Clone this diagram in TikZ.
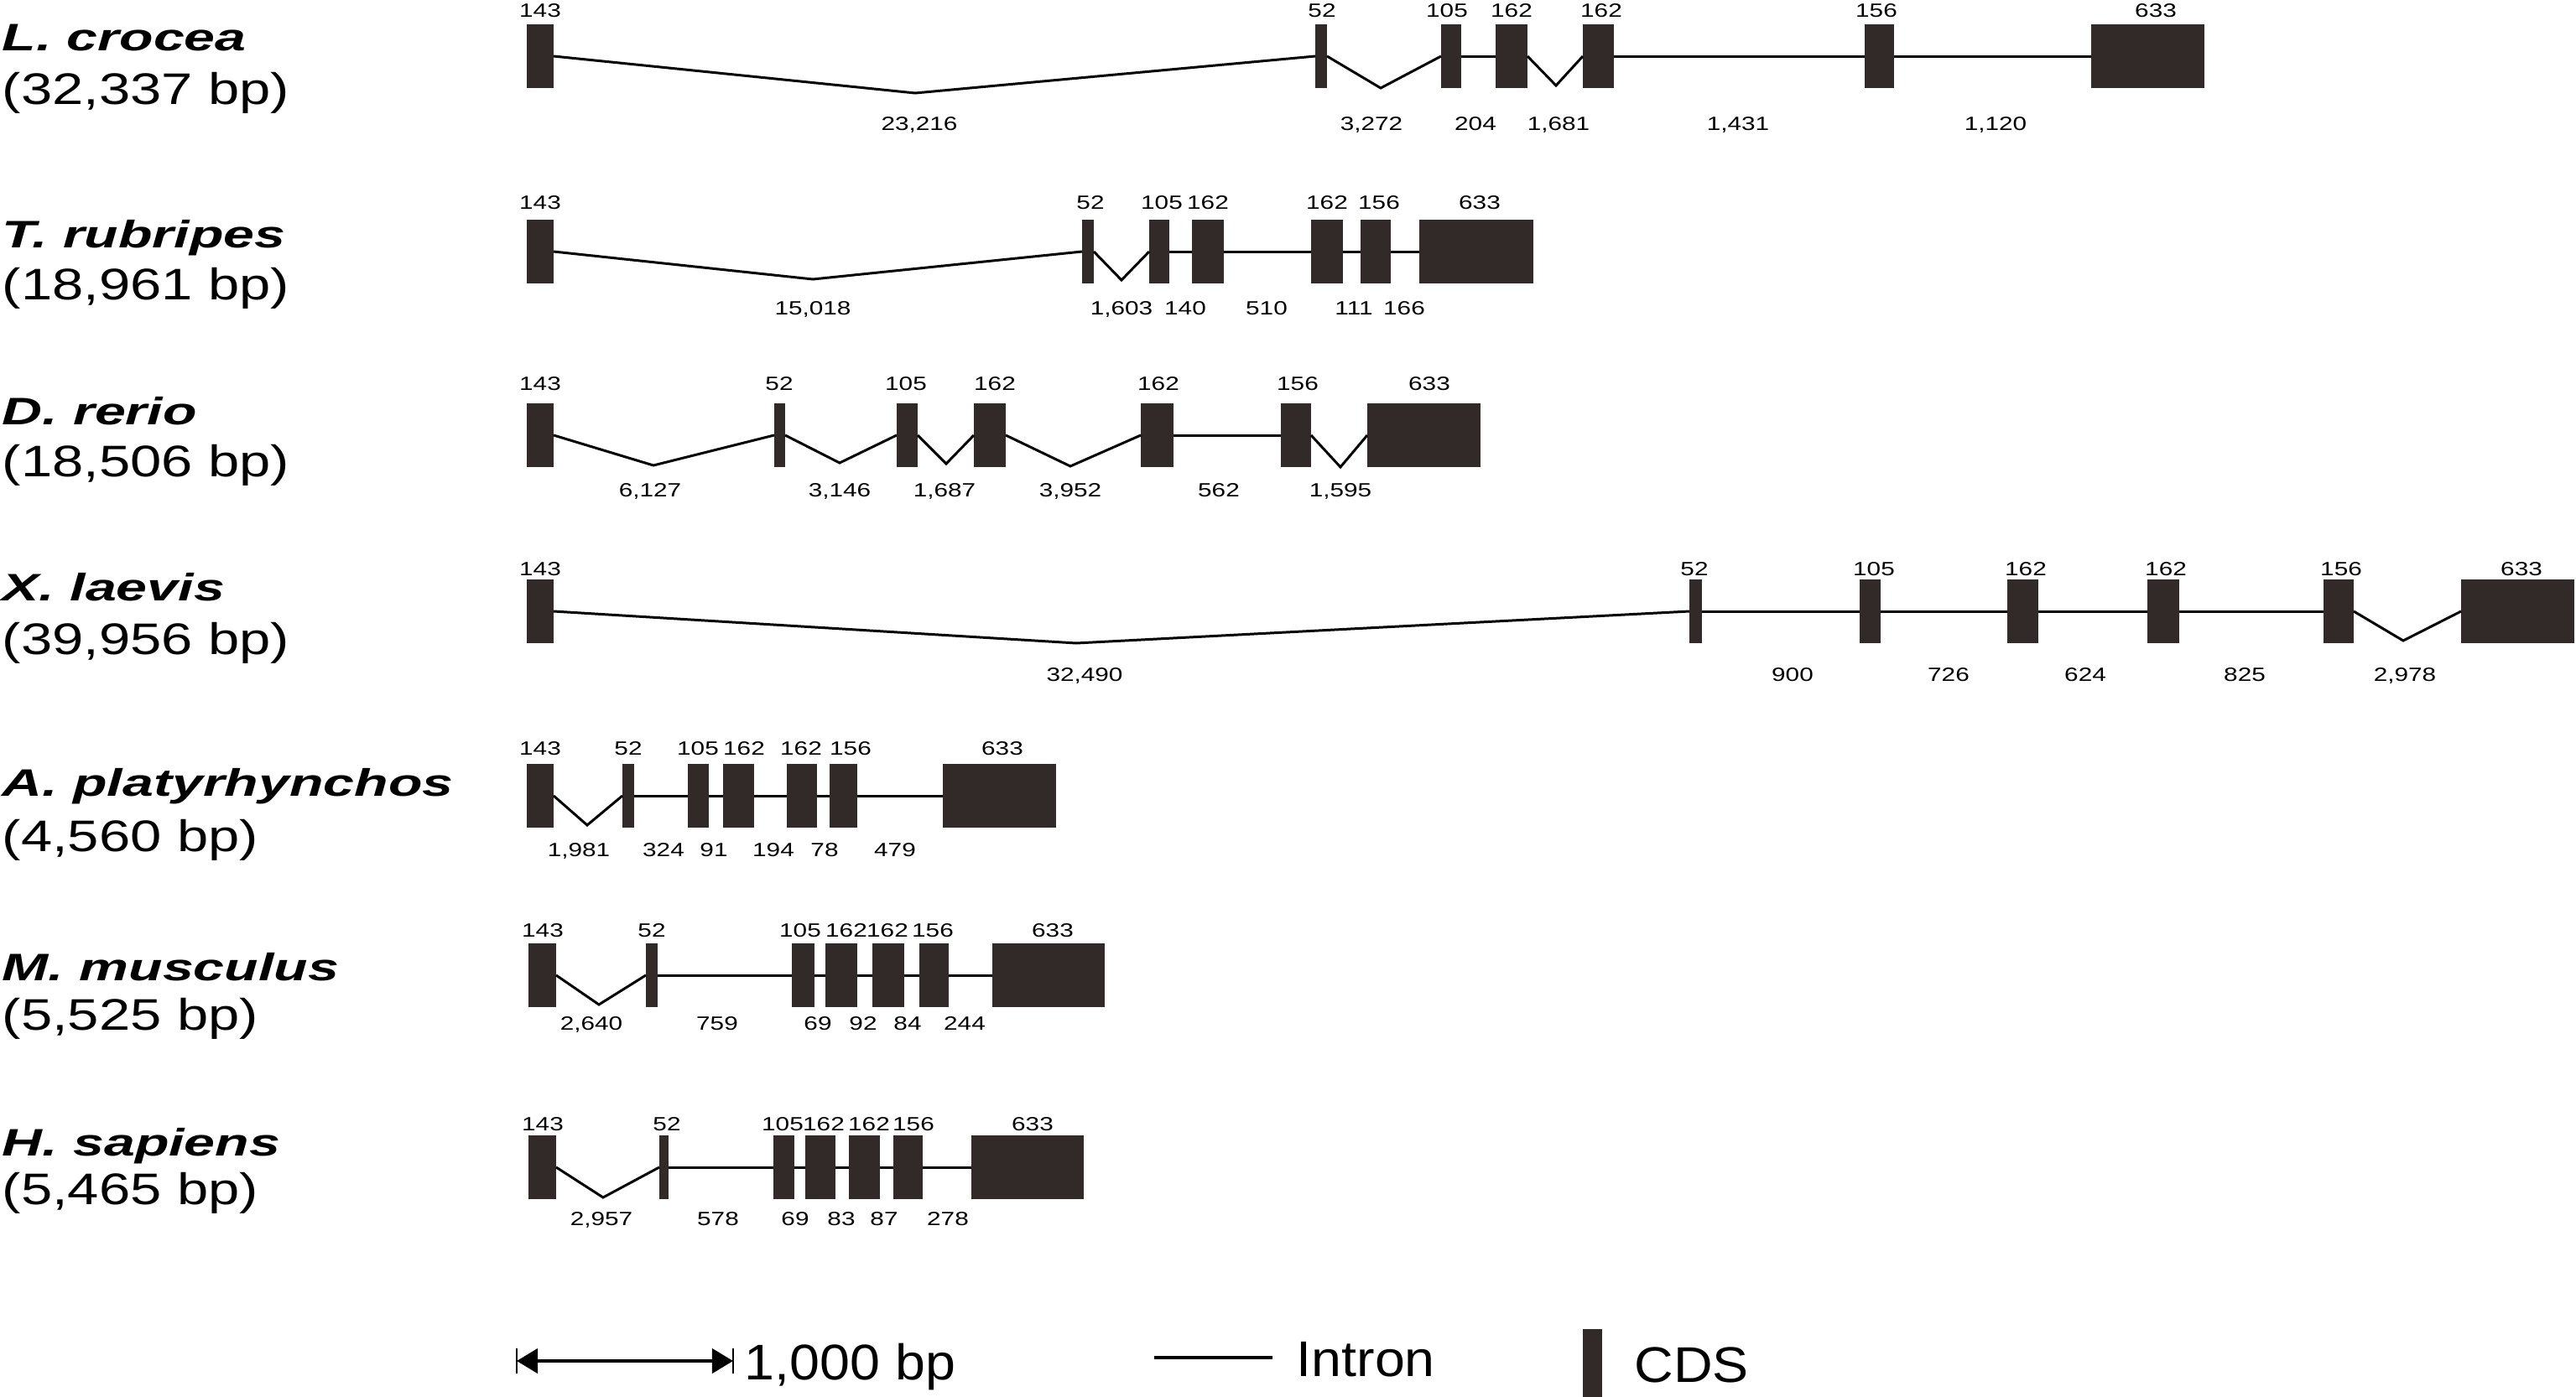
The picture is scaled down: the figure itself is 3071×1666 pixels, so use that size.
\documentclass[tikz,border=0pt]{standalone}
\usepackage{fontspec}
\setmainfont{Liberation Sans}
\newfontfamily\namefont[FakeStretch=1.45]{Liberation Sans}
\newfontfamily\sizefont[FakeStretch=1.27]{Liberation Sans}
\newfontfamily\numfont[FakeStretch=1.3]{Liberation Sans}
\newfontfamily\keyfont[FakeStretch=1.08]{Liberation Sans}
\usetikzlibrary{arrows.meta}
\definecolor{exoncol}{RGB}{50,42,41}

\tikzset{
  exon/.style={fill=exoncol, inner sep=0pt, outer sep=0pt, minimum height=0.75cm},
  intron/.style={line width=0.85pt, line join=miter},
  num/.style={font=\numfont\fontsize{6.5}{7}\selectfont, inner sep=0pt, text height=4.65pt, text depth=0pt},
  species/.style={font=\namefont\fontsize{13}{15}\selectfont\bfseries\itshape, anchor=west, inner sep=0pt, text height=9.3pt, text depth=0pt},
  gsize/.style={font=\sizefont\fontsize{15}{17}\selectfont, anchor=west, inner sep=0pt, text height=10.74pt, text depth=0pt},
  keytext/.style={font=\keyfont\fontsize{17}{19}\selectfont, anchor=west, inner sep=0pt, text height=12.2pt, text depth=0pt},
  scalebar/.style={line width=1.2pt, {Triangle[length=0.25cm, width=0.29cm]}-{Triangle[length=0.25cm, width=0.29cm]}},
}

\begin{document}
\begin{tikzpicture}[x=0.01cm, y=-0.01cm]
\useasboundingbox (0,0) rectangle (3071,1666);

% L. crocea
\node[species] (nm1) at (2,44) {L. crocea};
\node[gsize] (bp1) at (2,106) {(32,337 bp)};
\foreach \n/\xl/\xr/\lx/\txt in {a/628/660/644/143, b/1568/1582/1576/52, c/1718/1742/1725/105, d/1783/1821/1802/162, e/1887/1924/1909/162, f/2223/2258/2237/156, g/2493/2628/2570/633}{
  \node[exon, minimum width={(\xr-\xl)*0.01cm}] (e1\n) at ({(\xl+\xr)/2},67) {};
  \node[num] (x1\n) at (\lx,12) {\txt};
}
\foreach \p/\q/\vx/\vy/\lx/\txt in {a/b/1091/111/1096/{23,216}, b/c/1646/105/1635/{3,272}, c/d/1762/67/1759/204, d/e/1855/102/1858/{1,681}, e/f/2073/67/2072/{1,431}, f/g/2375/67/2379/{1,120}}{
  \draw[intron] (e1\p.east) -- (\vx,\vy) -- (e1\q.west);
  \node[num] (i1\p) at (\lx,147) {\txt};
}

% T. rubripes
\node[species] (nm2) at (2,279) {T. rubripes};
\node[gsize] (bp2) at (2,339) {(18,961 bp)};
\foreach \n/\xl/\xr/\lx/\txt in {a/628/660/644/143, b/1290/1304/1300/52, c/1370/1394/1385/105, d/1421/1459/1440/162, e/1563/1601/1582/162, f/1622/1658/1644/156, g/1692/1828/1764/633}{
  \node[exon, minimum width={(\xr-\xl)*0.01cm}] (e2\n) at ({(\xl+\xr)/2},300) {};
  \node[num] (x2\n) at (\lx,241) {\txt};
}
\foreach \p/\q/\vx/\vy/\lx/\txt in {a/b/969/333/969/{15,018}, b/c/1337/334/1337/{1,603}, c/d/1413/300/1413/140, d/e/1510/300/1510/510, e/f/1614/300/1614/111, f/g/1674/300/1674/166}{
  \draw[intron] (e2\p.east) -- (\vx,\vy) -- (e2\q.west);
  \node[num] (i2\p) at (\lx,367) {\txt};
}

% D. rerio
\node[species] (nm3) at (2,490) {D. rerio};
\node[gsize] (bp3) at (2,550) {(18,506 bp)};
\foreach \n/\xl/\xr/\lx/\txt in {a/628/660/644/143, b/923/936/929/52, c/1069/1094/1080/105, d/1161/1199/1186/162, e/1360/1399/1381/162, f/1527/1563/1547/156, g/1630/1765/1704/633}{
  \node[exon, minimum width={(\xr-\xl)*0.01cm}] (e3\n) at ({(\xl+\xr)/2},519) {};
  \node[num] (x3\n) at (\lx,457) {\txt};
}
\foreach \p/\q/\vx/\vy/\lx/\txt in {a/b/779/555/775/{6,127}, b/c/1001/552/1001/{3,146}, c/d/1128/553/1126/{1,687}, d/e/1276/556/1276/{3,952}, e/f/1453/519/1453/562, f/g/1598/557/1598/{1,595}}{
  \draw[intron] (e3\p.east) -- (\vx,\vy) -- (e3\q.west);
  \node[num] (i3\p) at (\lx,584) {\txt};
}

% X. laevis
\node[species] (nm4) at (2,700) {X. laevis};
\node[gsize] (bp4) at (2,762) {(39,956 bp)};
\foreach \n/\xl/\xr/\lx/\txt in {a/628/660/644/143, b/2014/2029/2020/52, c/2217/2242/2234/105, d/2393/2430/2415/162, e/2560/2598/2582/162, f/2770/2806/2791/156, g/2934/3069/3006/633}{
  \node[exon, minimum width={(\xr-\xl)*0.01cm}] (e4\n) at ({(\xl+\xr)/2},729) {};
  \node[num] (x4\n) at (\lx,678) {\txt};
}
\foreach \p/\q/\vx/\vy/\lx/\txt in {a/b/1283/767/1293/{32,490}, b/c/2137/729/2137/900, c/d/2323/729/2323/726, d/e/2486/729/2486/624, e/f/2676/729/2676/825, f/g/2865/764/2867/{2,978}}{
  \draw[intron] (e4\p.east) -- (\vx,\vy) -- (e4\q.west);
  \node[num] (i4\p) at (\lx,804) {\txt};
}

% A. platyrhynchos
\node[species] (nm5) at (2,933) {A. platyrhynchos};
\node[gsize] (bp5) at (2,997) {(4,560 bp)};
\foreach \n/\xl/\xr/\lx/\txt in {a/628/660/644/143, b/742/756/749/52, c/820/845/832/105, d/862/899/887/162, e/938/974/955/162, f/989/1022/1014/156, g/1124/1259/1195/633}{
  \node[exon, minimum width={(\xr-\xl)*0.01cm}] (e5\n) at ({(\xl+\xr)/2},949) {};
  \node[num] (x5\n) at (\lx,892) {\txt};
}
\foreach \p/\q/\vx/\vy/\lx/\txt in {a/b/700/984/690/{1,981}, b/c/791/949/791/324, c/d/851/949/851/91, d/e/922/949/922/194, e/f/983/949/983/78, f/g/1067/949/1067/479}{
  \draw[intron] (e5\p.east) -- (\vx,\vy) -- (e5\q.west);
  \node[num] (i5\p) at (\lx,1013) {\txt};
}

% M. musculus
\node[species] (nm6) at (2,1153) {M. musculus};
\node[gsize] (bp6) at (2,1210) {(5,525 bp)};
\foreach \n/\xl/\xr/\lx/\txt in {a/630/663/647/143, b/770/784/777/52, c/944/971/954/105, d/984/1022/1009/162, e/1040/1078/1058/162, f/1096/1131/1112/156, g/1183/1317/1255/633}{
  \node[exon, minimum width={(\xr-\xl)*0.01cm}] (e6\n) at ({(\xl+\xr)/2},1163) {};
  \node[num] (x6\n) at (\lx,1109) {\txt};
}
\foreach \p/\q/\vx/\vy/\lx/\txt in {a/b/714/1198/705/{2,640}, b/c/855/1163/855/759, c/d/975/1163/975/69, d/e/1029/1163/1029/92, e/f/1082/1163/1082/84, f/g/1150/1163/1150/244}{
  \draw[intron] (e6\p.east) -- (\vx,\vy) -- (e6\q.west);
  \node[num] (i6\p) at (\lx,1220) {\txt};
}

% H. sapiens
\node[species] (nm7) at (2,1362) {H. sapiens};
\node[gsize] (bp7) at (2,1418) {(5,465 bp)};
\foreach \n/\xl/\xr/\lx/\txt in {a/630/663/647/143, b/786/797/795/52, c/922/947/933/105, d/960/996/982/162, e/1012/1049/1036/162, f/1065/1100/1089/156, g/1158/1292/1231/633}{
  \node[exon, minimum width={(\xr-\xl)*0.01cm}] (e7\n) at ({(\xl+\xr)/2},1392) {};
  \node[num] (x7\n) at (\lx,1340) {\txt};
}
\foreach \p/\q/\vx/\vy/\lx/\txt in {a/b/719/1428/717/{2,957}, b/c/856/1392/856/578, c/d/948/1392/948/69, d/e/1003/1392/1003/83, e/f/1054/1392/1054/87, f/g/1130/1392/1130/278}{
  \draw[intron] (e7\p.east) -- (\vx,\vy) -- (e7\q.west);
  \node[num] (i7\p) at (\lx,1453) {\txt};
}

% scale and key
\coordinate (sbl) at (616,1623);
\coordinate (sbr) at (874,1623);
\draw[line width=0.6pt] (616,1608) -- (616,1638);
\draw[line width=0.6pt] (874,1608) -- (874,1638);
\draw[scalebar] (sbl) -- (sbr);
\node[keytext] (sbt) at (887,1624) {1,000 bp};
\coordinate (kil) at (1376,1619);
\coordinate (kir) at (1517,1619);
\draw[line width=1.2pt] (kil) -- (kir);
\node[keytext] (kit) at (1545,1620) {Intron};
\node[exon, minimum width=0.23cm, minimum height=0.81cm, anchor=north] (kcds) at (1898,1585) {};
\node[keytext] (kct) at (1948,1627) {CDS};
\end{tikzpicture}
\end{document}
